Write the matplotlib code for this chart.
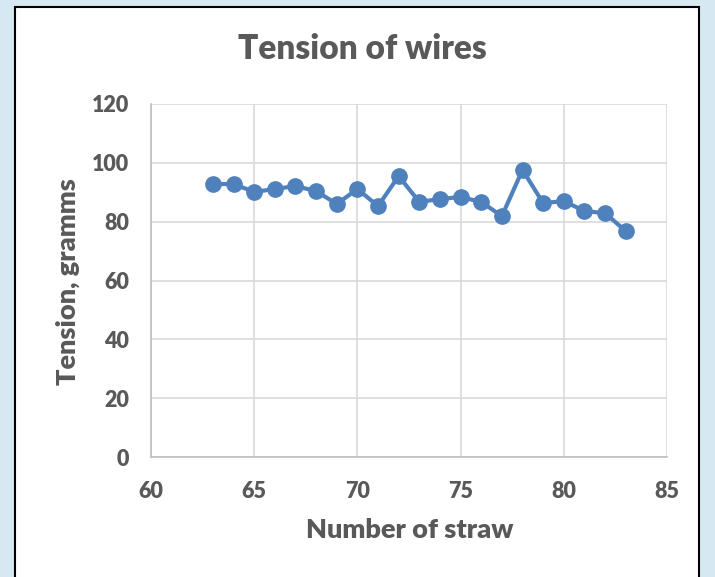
import matplotlib
matplotlib.use("Agg")
import matplotlib.pyplot as plt
from matplotlib.patches import Rectangle

# ===== Data =====
straw = [63, 64, 65, 66, 67, 68, 69, 70, 71, 72, 73, 74, 75, 76, 77, 78, 79, 80, 81, 82, 83]
tension = [92.8, 92.8, 90.1, 91.1, 92.1, 90.4, 86.0, 91.1, 85.3, 95.5, 86.7,
           87.7, 88.4, 86.7, 81.9, 97.6, 86.3, 87.0, 83.6, 82.9, 76.8]
xticks = [60, 65, 70, 75, 80, 85]
yticks = [0, 20, 40, 60, 80, 100, 120]

text_color = "#595959"
line_color = "#4f81bd"
fonts = ["Lato", "DejaVu Sans"]

W, H = 715, 577

# ===== Figure =====
fig = plt.figure(figsize=(W / 100, H / 100), dpi=100)
fig.patch.set_facecolor("#d6e9f3")

# white chart panel with black border
panel = Rectangle((15 / W, -0.05), (699 - 15) / W, 1.05 - 7 / H,
                  transform=fig.transFigure, facecolor="white",
                  edgecolor="black", linewidth=1.5, zorder=-5)
fig.add_artist(panel)

ax = fig.add_axes([151 / W, (H - 457) / H, (667 - 151) / W, (457 - 104) / H])
ax.set_zorder(2)
ax.set_facecolor("white")

ax.plot(straw, tension, color=line_color, linewidth=3, marker="o",
        markersize=11, markerfacecolor=line_color, markeredgecolor=line_color,
        zorder=3, clip_on=False)

ax.set_xlim(60, 85)
ax.set_ylim(0, 120)
ax.set_xticks(xticks)
ax.set_yticks(yticks)
ax.grid(True, color="#d9d9d9", linewidth=1.2)
ax.set_axisbelow(True)

for side in ["top", "right"]:
    ax.spines[side].set_visible(False)
ax.spines["left"].set_color("#bfbfbf")
ax.spines["bottom"].set_color("#bfbfbf")
ax.spines["left"].set_linewidth(1.2)
ax.spines["bottom"].set_linewidth(1.2)
ax.tick_params(length=0, colors=text_color)
ax.tick_params(axis="x", pad=17)
ax.tick_params(axis="y", pad=16)

for lbl in ax.get_xticklabels() + ax.get_yticklabels():
    lbl.set_fontfamily(fonts)
    lbl.set_fontweight("heavy")
    lbl.set_fontsize(15.5)
    lbl.set_color(text_color)

fig.text(362 / W, 1 - 49 / H, "Tension of wires", family=fonts, fontweight="heavy",
         fontsize=24, color=text_color, ha="center", va="center")
fig.text(410 / W, 1 - 530 / H, "Number of straw", family=fonts, fontweight="heavy",
         fontsize=19.5, color=text_color, ha="center", va="center")
fig.text(68 / W, 1 - 282 / H, "Tension, gramms", family=fonts, fontweight="heavy",
         fontsize=19.5, color=text_color, ha="center", va="center", rotation=90)

plt.savefig("out.png", dpi=100, facecolor=fig.get_facecolor())
plt.close()
